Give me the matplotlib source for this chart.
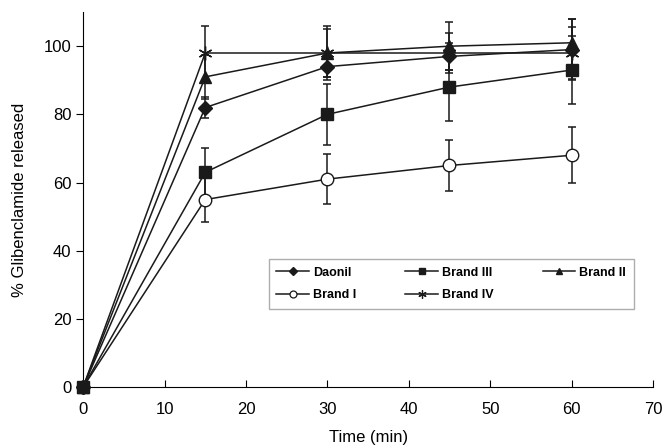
import numpy as np
import matplotlib.pyplot as plt
from matplotlib.lines import Line2D

plt.rcParams['font.family'] = ['Liberation Sans', 'DejaVu Sans']

# data
time = [0, 15, 30, 45, 60]

daonil = [0, 82, 94, 97, 99]
daonil_err = [0, 3, 3, 4, 9]

brand3 = [0, 63, 80, 88, 93]
brand3_err = [0, 7, 9, 10, 10]

brand2 = [0, 91, 98, 100, 101]
brand2_err = [0, 6.5, 7, 7, 7]

brand1 = [0, 55, 61, 65, 68]
brand1_err = [0, 6.5, 7.3, 7.6, 8.2]

brand4 = [0, 98, 98, 98, 98]
brand4_err = [0, 8, 8, 6, 7.5]

names = ['Daonil', 'Brand I', 'Brand III', 'Brand IV', 'Brand II']

fig = plt.figure(figsize=(6.65, 4.48), dpi=100)
ax = fig.add_axes([0.125, 0.136, 0.857, 0.837])

c = '#1a1a1a'
lw = 1.1

# error bars first
for y, e in [(daonil, daonil_err), (brand1, brand1_err), (brand4, brand4_err),
             (brand2, brand2_err), (brand3, brand3_err)]:
    ax.errorbar(time, y, yerr=e, fmt='none', ecolor=c, elinewidth=lw,
                capsize=3, capthick=lw)

# lines with markers (not clipped so the 0 point shows fully)
styles = {
    'Daonil': dict(marker='D', ms=7),
    'Brand I': dict(marker='o', ms=9, mfc='white', mew=1.0),
    'Brand IV': dict(marker=(6, 2, 0), ms=10, mew=1.0),
    'Brand II': dict(marker='^', ms=9),
    'Brand III': dict(marker='s', ms=8.5),
}
series = {'Daonil': daonil, 'Brand I': brand1, 'Brand IV': brand4,
          'Brand II': brand2, 'Brand III': brand3}
for name in ['Daonil', 'Brand I', 'Brand IV', 'Brand II', 'Brand III']:
    ax.plot(time, series[name], color=c, lw=lw, mec=c, clip_on=False, zorder=3,
            **styles[name])

ax.set_xlim(0, 70)
ax.set_ylim(0, 110)
ax.set_xticks(np.arange(0, 71, 10))
ax.set_yticks(np.arange(0, 101, 20))
ax.spines['top'].set_visible(False)
ax.spines['right'].set_visible(False)
ax.tick_params(axis='x', direction='in', length=5, labelsize=12, pad=11)
ax.tick_params(axis='y', direction='out', length=5, labelsize=12)
ax.set_xlabel('Time (min)', fontsize=12, labelpad=9)
ax.set_ylabel('% Glibenclamide released', fontsize=12, labelpad=12)

# legend with small markers, no error bars
small = {'Daonil': dict(marker='D', ms=4),
         'Brand I': dict(marker='o', ms=5, mfc='white', mew=0.9),
         'Brand III': dict(marker='s', ms=5),
         'Brand IV': dict(marker=(6, 2, 0), ms=6, mew=0.9),
         'Brand II': dict(marker='^', ms=5)}
handles = [Line2D([], [], color=c, lw=lw, mec=c, **small[n]) for n in names]
leg = ax.legend(handles=handles, labels=names, ncol=3, loc='upper left',
                bbox_to_anchor=(0.326, 0.341), borderaxespad=0,
                prop={'weight': 'bold', 'size': 9}, frameon=True, fancybox=False,
                edgecolor='#999999', handlelength=2.6, handletextpad=0.35,
                columnspacing=3.9, borderpad=0.6, labelspacing=0.85)
leg.get_frame().set_linewidth(1.0)

plt.savefig('out.png', dpi=100)
